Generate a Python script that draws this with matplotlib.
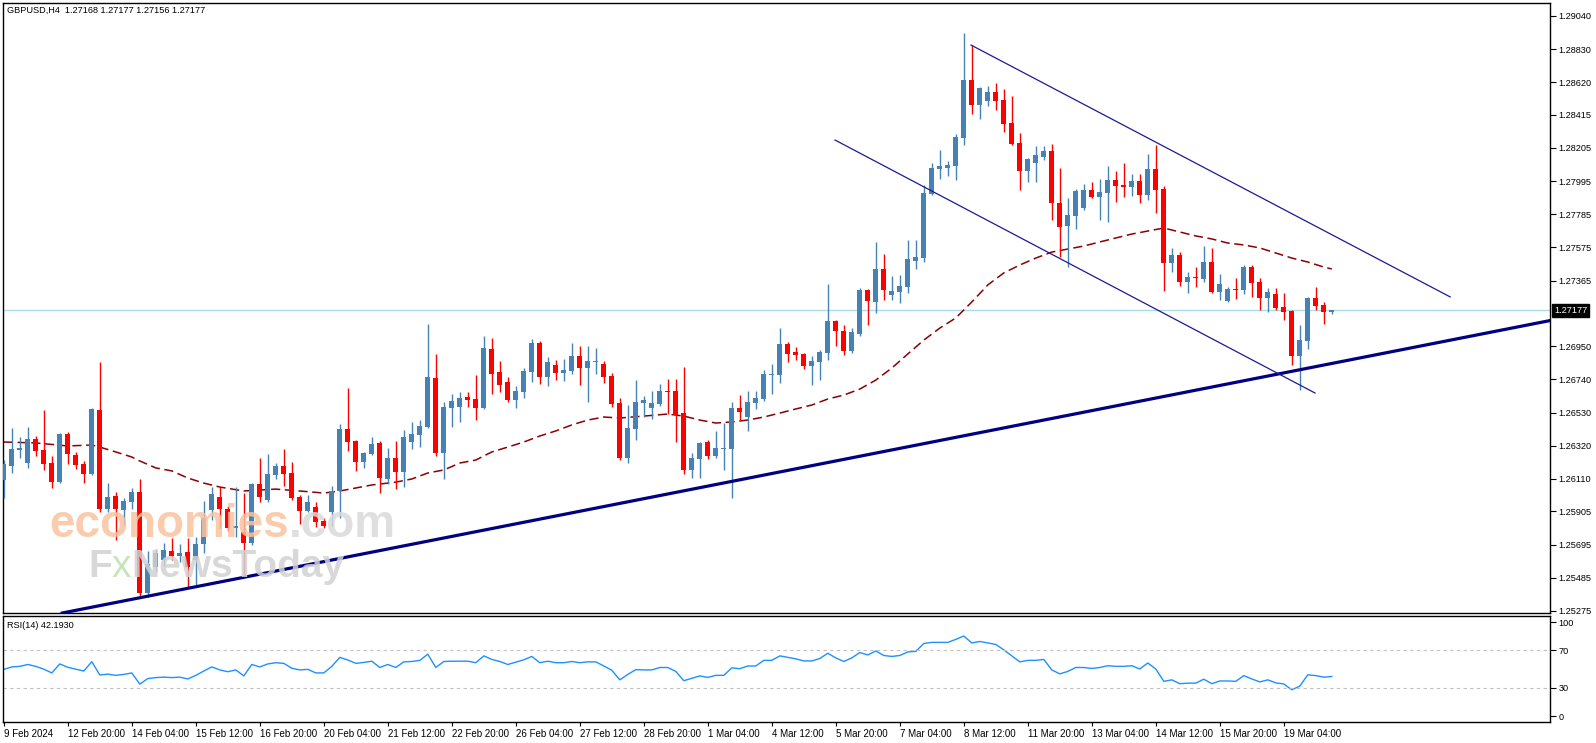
import matplotlib
matplotlib.use("Agg")
import matplotlib.pyplot as plt
import numpy as np

# ---------------- data ----------------
title_text = "GBPUSD,H4  1.27168 1.27177 1.27156 1.27177"
rsi_title = "RSI(14) 42.1930"
last_price = 1.27177

opens = [
    1.26103, 1.26192, 1.26293, 1.26211, 1.26363, 1.26293, 1.26211, 1.26090, 1.26395, 1.26262,
    1.26205, 1.26142, 1.26547, 1.25920, 1.26002, 1.25913, 1.25964, 1.26027, 1.25388, 1.25553,
    1.25597, 1.25654, 1.25622, 1.25647, 1.25597, 1.25698, 1.25913, 1.25996, 1.25920, 1.25799,
    1.25774, 1.25705, 1.26078, 1.25977, 1.26135, 1.26192, 1.26148, 1.25996, 1.25907, 1.25932,
    1.25844, 1.25901, 1.26034, 1.26426, 1.26350, 1.26217, 1.26268, 1.26338, 1.26110, 1.26243,
    1.26154, 1.26344, 1.26388, 1.26439, 1.26749, 1.26274, 1.26559, 1.26566, 1.26629, 1.26616,
    1.26559, 1.26932, 1.26787, 1.26723, 1.26610, 1.26660, 1.26787, 1.26970, 1.26755, 1.26831,
    1.26780, 1.26793, 1.26888, 1.26812, 1.26850, 1.26837, 1.26761, 1.26591, 1.26243, 1.26426,
    1.26591, 1.26559, 1.26585, 1.26667, 1.26667, 1.26528, 1.26167, 1.26236, 1.26344, 1.26255,
    1.26300, 1.26300, 1.26559, 1.26502, 1.26591, 1.26616, 1.26768, 1.26768, 1.26964, 1.26913,
    1.26901, 1.26825, 1.26850, 1.26907, 1.27110, 1.27046, 1.26920, 1.27027, 1.27306, 1.27230,
    1.27439, 1.27274, 1.27293, 1.27325, 1.27489, 1.27508, 1.27913, 1.28071, 1.28078, 1.28090,
    1.28268, 1.28635, 1.28477, 1.28502, 1.28559, 1.28508, 1.28363, 1.28236, 1.28059, 1.28109,
    1.28147, 1.28185, 1.27856, 1.27711, 1.27774, 1.27825, 1.27939, 1.27894, 1.27920, 1.28002,
    1.27970, 1.27958, 1.27996, 1.27907, 1.28071, 1.27945, 1.27477, 1.27527, 1.27356, 1.27388,
    1.27376, 1.27483, 1.27293, 1.27236, 1.27312, 1.27306, 1.27451, 1.27356, 1.27255, 1.27281,
    1.27198, 1.27173, 1.26888, 1.26983, 1.27255, 1.27211, 1.27168,
]
closes = [
    1.26205, 1.26300, 1.26306, 1.26363, 1.26287, 1.26205, 1.26090, 1.26395, 1.26268, 1.26199,
    1.26142, 1.26553, 1.25920, 1.25996, 1.25920, 1.25970, 1.26027, 1.25388, 1.25572, 1.25641,
    1.25660, 1.25622, 1.25641, 1.25553, 1.25698, 1.25863, 1.26015, 1.25920, 1.25799, 1.25812,
    1.25705, 1.26078, 1.25996, 1.26142, 1.26192, 1.26142, 1.25989, 1.25907, 1.25964, 1.25837,
    1.25812, 1.26034, 1.26426, 1.26344, 1.26217, 1.26274, 1.26331, 1.26116, 1.26243, 1.26154,
    1.26376, 1.26395, 1.26445, 1.26755, 1.26274, 1.26566, 1.26604, 1.26623, 1.26610, 1.26559,
    1.26939, 1.26774, 1.26705, 1.26610, 1.26667, 1.26793, 1.26970, 1.26755, 1.26850, 1.26780,
    1.26799, 1.26888, 1.26812, 1.26856, 1.26856, 1.26755, 1.26585, 1.26243, 1.26432, 1.26597,
    1.26610, 1.26591, 1.26667, 1.26660, 1.26515, 1.26167, 1.26243, 1.26338, 1.26255, 1.26306,
    1.26306, 1.26559, 1.26534, 1.26597, 1.26623, 1.26774, 1.26774, 1.26964, 1.26901, 1.26894,
    1.26825, 1.26856, 1.26913, 1.27110, 1.27046, 1.26920, 1.27040, 1.27306, 1.27236, 1.27439,
    1.27306, 1.27300, 1.27331, 1.27502, 1.27515, 1.27920, 1.28078, 1.28090, 1.28097, 1.28274,
    1.28635, 1.28477, 1.28584, 1.28559, 1.28502, 1.28356, 1.28230, 1.28059, 1.28135, 1.28160,
    1.28185, 1.27856, 1.27704, 1.27780, 1.27932, 1.27939, 1.27894, 1.27926, 1.28002, 1.27964,
    1.27958, 1.27996, 1.27907, 1.28071, 1.27939, 1.27477, 1.27527, 1.27356, 1.27388, 1.27382,
    1.27483, 1.27293, 1.27344, 1.27312, 1.27306, 1.27451, 1.27350, 1.27255, 1.27293, 1.27192,
    1.27167, 1.26888, 1.26989, 1.27255, 1.27205, 1.27167, 1.27177,
]
highs = [
    1.26230, 1.26432, 1.26376, 1.26439, 1.26382, 1.26547, 1.26255, 1.26401, 1.26407, 1.26281,
    1.26224, 1.26559, 1.26850, 1.26084, 1.26027, 1.25989, 1.26053, 1.26110, 1.25654, 1.25667,
    1.25705, 1.25736, 1.25698, 1.25736, 1.25743, 1.25970, 1.26059, 1.26059, 1.25939, 1.26059,
    1.26021, 1.26084, 1.26243, 1.26268, 1.26211, 1.26300, 1.26217, 1.26008, 1.26008, 1.25964,
    1.25863, 1.26065, 1.26458, 1.26686, 1.26357, 1.26281, 1.26376, 1.26350, 1.26306, 1.26350,
    1.26420, 1.26471, 1.26483, 1.27091, 1.26900, 1.26597, 1.26648, 1.26660, 1.26660, 1.26768,
    1.27015, 1.27002, 1.26856, 1.26755, 1.26698, 1.26812, 1.26996, 1.26983, 1.26882, 1.26863,
    1.26869, 1.26970, 1.26951, 1.26951, 1.26939, 1.26856, 1.26780, 1.26623, 1.26578, 1.26736,
    1.26635, 1.26667, 1.26711, 1.26742, 1.26742, 1.26818, 1.26274, 1.26344, 1.26357, 1.26414,
    1.26464, 1.26597, 1.26642, 1.26667, 1.26667, 1.26799, 1.26837, 1.27065, 1.26977, 1.26945,
    1.26907, 1.26888, 1.26926, 1.27344, 1.27116, 1.27084, 1.27065, 1.27319, 1.27312, 1.27610,
    1.27533, 1.27394, 1.27401, 1.27622, 1.27622, 1.27970, 1.28109, 1.28192, 1.28122, 1.28293,
    1.28932, 1.28856, 1.28590, 1.28597, 1.28616, 1.28578, 1.28533, 1.28299, 1.28141, 1.28217,
    1.28217, 1.28230, 1.28078, 1.27888, 1.27945, 1.27977, 1.27989, 1.28008, 1.28091, 1.28059,
    1.28109, 1.28040, 1.28040, 1.28166, 1.28223, 1.27964, 1.27572, 1.27546, 1.27420, 1.27451,
    1.27584, 1.27572, 1.27407, 1.27325, 1.27382, 1.27464, 1.27464, 1.27382, 1.27319, 1.27319,
    1.27287, 1.27179, 1.27084, 1.27262, 1.27325, 1.27230, 1.27177,
]
lows = [
    1.25989, 1.26148, 1.26243, 1.26180, 1.26255, 1.26167, 1.26053, 1.26084, 1.26205, 1.26173,
    1.26084, 1.26135, 1.25901, 1.25901, 1.25724, 1.25818, 1.25920, 1.25363, 1.25363, 1.25521,
    1.25559, 1.25597, 1.25584, 1.25426, 1.25439, 1.25641, 1.25850, 1.25799, 1.25780, 1.25743,
    1.25502, 1.25692, 1.25964, 1.25964, 1.26110, 1.26065, 1.25977, 1.25825, 1.25901, 1.25806,
    1.25799, 1.25812, 1.25863, 1.26287, 1.26161, 1.26180, 1.26262, 1.26021, 1.26078, 1.26046,
    1.26059, 1.26300, 1.26312, 1.26432, 1.26255, 1.26110, 1.26439, 1.26471, 1.26566, 1.26483,
    1.26553, 1.26648, 1.26660, 1.26597, 1.26559, 1.26623, 1.26723, 1.26711, 1.26698, 1.26736,
    1.26730, 1.26774, 1.26705, 1.26597, 1.26774, 1.26717, 1.26566, 1.26230, 1.26211, 1.26357,
    1.26502, 1.26490, 1.26572, 1.26521, 1.26344, 1.26142, 1.26116, 1.26116, 1.26236, 1.26243,
    1.26167, 1.25989, 1.26483, 1.26414, 1.26553, 1.26604, 1.26648, 1.26717, 1.26850, 1.26863,
    1.26806, 1.26705, 1.26736, 1.26863, 1.26951, 1.26894, 1.26907, 1.27015, 1.27084, 1.27160,
    1.27243, 1.27243, 1.27224, 1.27287, 1.27439, 1.27483, 1.27907, 1.28008, 1.28027, 1.28002,
    1.28223, 1.28420, 1.28388, 1.28470, 1.28445, 1.28306, 1.28223, 1.27939, 1.27989, 1.27989,
    1.28128, 1.27749, 1.27515, 1.27452, 1.27692, 1.27812, 1.27888, 1.27749, 1.27736, 1.27863,
    1.27894, 1.27901, 1.27856, 1.27875, 1.27793, 1.27300, 1.27420, 1.27331, 1.27287, 1.27325,
    1.27356, 1.27287, 1.27243, 1.27230, 1.27249, 1.27281, 1.27262, 1.27179, 1.27167, 1.27179,
    1.27116, 1.26831, 1.26673, 1.26932, 1.27179, 1.27091, 1.27156,
]

# moving average (bar index, price)
ma_bars = [0, 4, 8, 11, 12, 14, 16, 17, 19, 21, 23, 25, 27, 30, 34, 37, 40, 42, 44, 46,
           49, 51, 53, 55, 57, 59, 61, 63, 65, 67, 69, 71, 73, 75, 77, 80, 83, 85, 87, 89,
           91, 93, 95, 97, 99, 101, 103, 105, 107, 109, 111, 113, 115, 117, 119, 121, 123, 125, 127, 129,
           131, 133, 135, 137, 139, 141, 143, 145, 147, 149, 151, 153, 155, 157, 159, 161, 163, 165, 166]
ma_vals = [1.26344, 1.26338, 1.26319, 1.26325, 1.26312, 1.26281, 1.26249, 1.26224, 1.26180, 1.26161,
           1.26116, 1.26084, 1.26059, 1.26034, 1.26046, 1.26034, 1.26021, 1.26034, 1.26053, 1.26072,
           1.26090, 1.26110, 1.26148, 1.26167, 1.26211, 1.26230, 1.26281, 1.26312, 1.26344, 1.26382,
           1.26414, 1.26452, 1.26483, 1.26502, 1.26496, 1.26508, 1.26521, 1.26508, 1.26483, 1.26464,
           1.26471, 1.26483, 1.26502, 1.26527, 1.26553, 1.26578, 1.26616, 1.26641, 1.26679, 1.26736,
           1.26812, 1.26901, 1.26989, 1.27065, 1.27129, 1.27230, 1.27338, 1.27414, 1.27464, 1.27508,
           1.27546, 1.27565, 1.27584, 1.27610, 1.27635, 1.27660, 1.27679, 1.27698, 1.27673, 1.27648,
           1.27629, 1.27603, 1.27591, 1.27572, 1.27540, 1.27508, 1.27483, 1.27451, 1.27439]

rsi = [
    49.8, 52.4, 53.0, 55.0, 53.0, 50.0, 46.0, 55.6, 52.0, 50.0,
    48.0, 58.0, 43.8, 44.7, 43.4, 44.4, 46.0, 34.0, 40.0, 41.0,
    41.5, 41.0, 41.5, 39.6, 43.4, 48.0, 52.4, 49.2, 47.3, 49.2,
    42.8, 55.0, 52.4, 55.6, 56.9, 56.2, 51.0, 49.2, 49.8, 46.0,
    46.0, 53.0, 62.6, 59.8, 56.2, 57.2, 58.5, 51.8, 55.0, 51.8,
    57.8, 58.2, 59.4, 66.0, 51.8, 58.2, 58.5, 58.5, 58.5, 56.9,
    64.2, 60.4, 58.2, 55.0, 57.5, 60.0, 63.6, 56.9, 58.5, 56.9,
    56.9, 58.2, 56.9, 57.8, 57.8, 53.4, 48.9, 38.6, 44.4, 49.5,
    49.2, 49.2, 51.8, 51.8, 47.6, 37.7, 40.2, 42.8, 41.2, 43.4,
    43.4, 51.4, 50.5, 53.4, 53.4, 59.4, 59.4, 64.2, 62.6, 61.0,
    58.8, 58.8, 61.4, 67.0, 62.0, 58.2, 62.0, 67.8, 65.2, 69.4,
    64.6, 63.6, 64.6, 68.4, 69.0, 77.4, 78.6, 78.6, 78.6, 81.8,
    85.4, 78.0, 79.6, 78.0, 76.4, 70.6, 64.2, 57.8, 59.4, 59.4,
    60.4, 49.2, 45.0, 47.6, 51.8, 51.8, 50.8, 51.8, 53.7, 53.0,
    53.0, 53.7, 50.2, 56.6, 50.2, 37.0, 38.6, 34.5, 35.1, 35.1,
    39.3, 34.5, 37.4, 37.4, 37.0, 43.1, 39.6, 36.4, 38.6, 35.4,
    34.2, 28.0, 31.9, 44.0, 43.1, 41.5, 42.2,
]

price_ticks = [1.29040, 1.28830, 1.28620, 1.28415, 1.28205, 1.27995, 1.27785, 1.27575, 1.27365,
               1.26950, 1.26740, 1.26530, 1.26320, 1.26110, 1.25905, 1.25695, 1.25485, 1.25275]
rsi_ticks = [0, 30, 70, 100]
rsi_levels = [30, 70]
time_labels = ["9 Feb 2024", "12 Feb 20:00", "14 Feb 04:00", "15 Feb 12:00", "16 Feb 20:00",
               "20 Feb 04:00", "21 Feb 12:00", "22 Feb 20:00", "26 Feb 04:00", "27 Feb 12:00",
               "28 Feb 20:00", "1 Mar 04:00", "4 Mar 12:00", "5 Mar 20:00", "7 Mar 04:00",
               "8 Mar 12:00", "11 Mar 20:00", "13 Mar 04:00", "14 Mar 12:00", "15 Mar 20:00",
               "19 Mar 04:00"]
label_step = 8

# trend line anchors (bar, price)
support_pts = [(24.5, 1.25433), (167.0, 1.26851)]
channel_upper = [(120.9, 1.28856), (180.8, 1.27262)]
channel_lower = [(103.9, 1.28255), (163.9, 1.26654)]

# ---------------- drawing ----------------
W, H = 1596, 743
fig = plt.figure(figsize=(W / 100, H / 100), dpi=100)
fig.patch.set_facecolor("white")

def add_ax(l, t, r, b):
    return fig.add_axes([l / W, 1 - b / H, (r - l) / W, (b - t) / H])

ax = add_ax(3, 3, 1550, 613)
ax2 = add_ax(3, 615.5, 1550, 722)

lab_font = ["Liberation Sans", "DejaVu Sans"]
narrow_font = ["Liberation Sans Narrow", "Liberation Sans", "DejaVu Sans"]

n = len(opens)
x = np.arange(n)
o = np.array(opens); c = np.array(closes); hi = np.array(highs); lo = np.array(lows)
bull = c >= o
cols = np.where(bull, "#4682B4", "#FF0000")
body_bottom = np.minimum(o, c)
body_h = np.maximum(np.abs(c - o), 0.00007)

ax.vlines(x, lo, hi, colors=cols, linewidth=1.0, zorder=3)
ax.bar(x, body_h, bottom=body_bottom, width=0.64, color=cols, linewidth=0, zorder=4)

ax.plot(ma_bars, ma_vals, color="#8B0000", lw=1.1, ls=(0, (6, 3)), zorder=2)
ax.axhline(last_price, color="#A8DCE6", lw=1.0, zorder=1)

ax.axline(support_pts[0], support_pts[1], color="#000080", lw=2.3, zorder=5)
ax.plot([p[0] for p in channel_upper], [p[1] for p in channel_upper], color="#1A1A96", lw=0.9, zorder=5)
ax.plot([p[0] for p in channel_lower], [p[1] for p in channel_lower], color="#1A1A96", lw=0.9, zorder=5)

ymin = 1.29141 - 613 * 0.00006328
ymax = 1.29141 - 3 * 0.00006328
xmin, xmax = -0.1, (1550 - 3.8) / 8
ax.set_xlim(xmin, xmax)
ax.set_ylim(ymin, ymax)
ax.set_xticks([])
ax.yaxis.tick_right()
ax.set_yticks(price_ticks)
ax.set_yticklabels(["%.5f" % t for t in price_ticks], family=lab_font, fontsize=6.6)
ax.tick_params(axis="y", length=4, width=0.8, pad=2, colors="black")

ax.annotate("%.5f" % last_price, xy=(1, last_price), xycoords=("axes fraction", "data"),
            xytext=(4, 0), textcoords="offset pixels", ha="left", va="center",
            fontsize=6.6, family=lab_font, color="white", annotation_clip=False,
            bbox=dict(boxstyle="square,pad=0.18", fc="black", ec="black"), zorder=10)

# watermark
wm1 = ax.text(49 / W, 1 - 537 / H, "economies", transform=fig.transFigure, fontsize=33,
              fontweight="bold", family="Liberation Sans", color="#F9C3A0", alpha=0.85,
              va="baseline", ha="left", zorder=8)
ax.annotate(".com", xy=(1, 0), xycoords=wm1, va="bottom", ha="left", fontsize=33,
            fontweight="bold", family="Liberation Sans", color="#DADADA", alpha=0.85,
            zorder=8, annotation_clip=False)
wm2 = ax.text(88 / W, 1 - 577 / H, "F", transform=fig.transFigure, fontsize=28, fontweight="bold",
              family="Liberation Sans", color="#D2D2D2", alpha=0.85, va="baseline", ha="left", zorder=8)
wm3 = ax.annotate("x", xy=(1, 0), xycoords=wm2, va="bottom", ha="left", fontsize=28,
                  family="Liberation Sans", color="#BFE0B0", alpha=0.85, zorder=8, annotation_clip=False)
ax.annotate("NewsToday", xy=(1, 0), xycoords=wm3, va="bottom", ha="left", fontsize=28,
            fontweight="bold", family="Liberation Sans", color="#D2D2D2", alpha=0.85, zorder=8,
            annotation_clip=False)

fig.text(7 / W, 1 - 10.5 / H, title_text, fontsize=6.6, family=lab_font, va="center", ha="left")

# RSI panel
ax2.plot(x, rsi, color="#1E90FF", lw=1.0)
for lv in rsi_levels:
    ax2.axhline(lv, color="#C0C0C0", lw=0.8, ls=(0, (3, 3)))
ax2.set_xlim(xmin, xmax)
ax2.set_ylim(-6.4, 107.3)
ax2.yaxis.tick_right()
ax2.set_yticks(rsi_ticks)
ax2.set_yticklabels([str(t) for t in rsi_ticks], family=lab_font, fontsize=6.6)
ax2.tick_params(axis="y", length=4, width=0.8, pad=2)
tick_pos = np.arange(len(time_labels)) * label_step
ax2.set_xticks(tick_pos)
ax2.set_xticklabels(time_labels, family=narrow_font, fontsize=7)
for lbl in ax2.get_xticklabels():
    lbl.set_ha("left")
ax2.tick_params(axis="x", length=3, width=0.8, pad=2)
fig.text(7 / W, 1 - 625 / H, rsi_title, fontsize=6.6, family=lab_font, va="center", ha="left")

for a in (ax, ax2):
    for s in a.spines.values():
        s.set_linewidth(1.0)
        s.set_color("black")

fig.savefig("out.png", dpi=100, facecolor="white")
